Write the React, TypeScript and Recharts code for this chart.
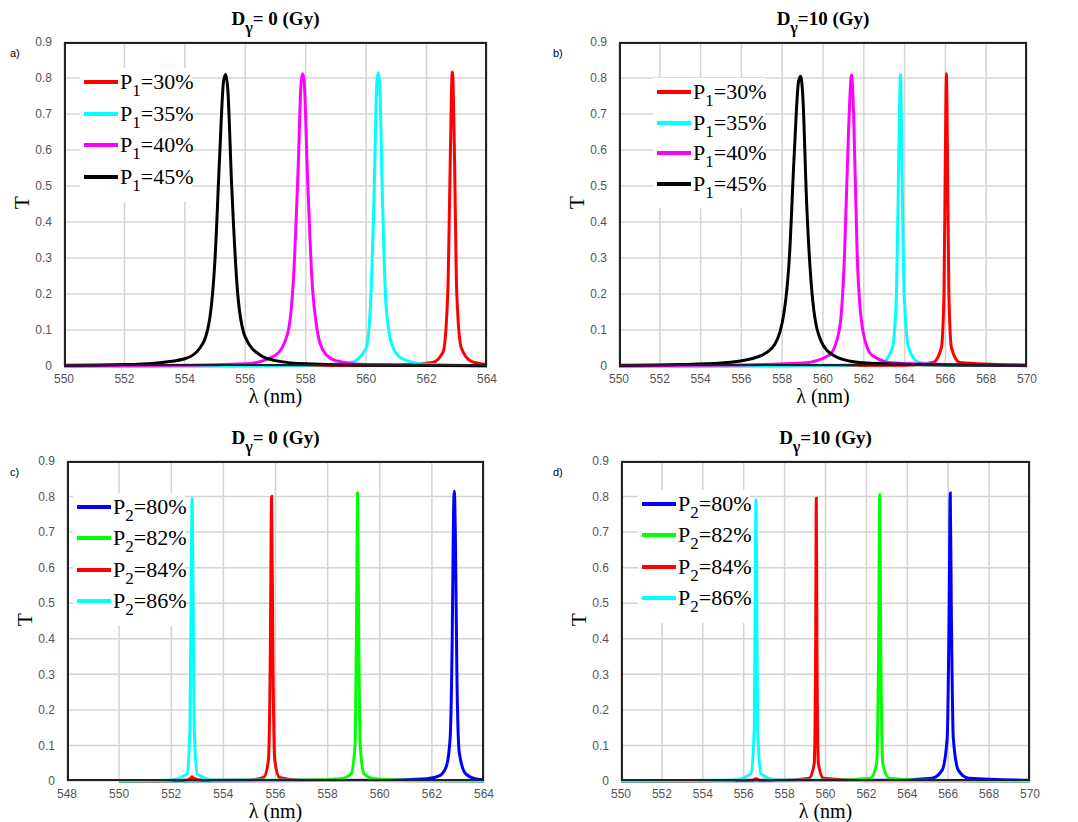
import React from "react";
import { LineChart, Line, XAxis, YAxis, CartesianGrid } from "recharts";

type P = [number, number];
const toObj = (a: P[]) => a.map(([x, y]) => ({ x, y }));

// Panel a) D=0, P1 series
const aP30: P[] = [[550,0],[561,0.002],[562.2,0.01],[562.55,0.04],[562.7,0.2],[562.78,0.55],[562.83,0.78],[562.85,0.817],[562.88,0.78],[562.93,0.55],[563.0,0.2],[563.15,0.05],[563.5,0.012],[564,0.004]];
const aP35: P[] = [[550,0],[558,0.002],[559.5,0.01],[560.0,0.05],[560.15,0.18],[560.27,0.5],[560.35,0.78],[560.4,0.815],[560.45,0.78],[560.53,0.5],[560.65,0.18],[560.85,0.06],[561.2,0.02],[562,0.005],[564,0.001]];
const aP40: P[] = [[550,0.001],[554,0.002],[556,0.006],[557,0.03],[557.4,0.09],[557.6,0.25],[557.75,0.55],[557.85,0.79],[557.9,0.812],[557.95,0.79],[558.05,0.55],[558.2,0.25],[558.4,0.09],[558.6,0.04],[559,0.015],[560,0.004],[564,0.001]];
const aP45: P[] = [[550,0.002],[552,0.004],[553,0.008],[554,0.02],[554.5,0.05],[554.8,0.12],[555.0,0.3],[555.15,0.58],[555.28,0.79],[555.35,0.81],[555.42,0.77],[555.55,0.5],[555.75,0.2],[556,0.08],[556.5,0.03],[557,0.015],[558,0.006],[560,0.002],[564,0.001]];

// Panel b) D=10, P1 series
const bP30: P[] = [[550,0],[564,0.002],[565.4,0.01],[565.8,0.05],[565.93,0.2],[566.0,0.6],[566.05,0.812],[566.1,0.6],[566.17,0.2],[566.3,0.05],[566.7,0.01],[570,0.002]];
const bP35: P[] = [[550,0],[561,0.002],[562.9,0.01],[563.4,0.05],[563.6,0.2],[563.72,0.6],[563.8,0.81],[563.86,0.6],[563.98,0.2],[564.2,0.05],[564.7,0.01],[566,0.003],[570,0.001]];
const bP40: P[] = [[550,0.001],[556,0.003],[559,0.008],[560.3,0.03],[560.8,0.1],[561.05,0.3],[561.25,0.65],[561.4,0.808],[561.5,0.7],[561.68,0.3],[561.95,0.1],[562.4,0.03],[563.5,0.008],[570,0.001]];
const bP45: P[] = [[550,0.002],[553,0.004],[555,0.008],[556.5,0.02],[557.5,0.05],[558.0,0.12],[558.35,0.3],[558.6,0.6],[558.8,0.79],[558.9,0.805],[559.0,0.76],[559.2,0.45],[559.5,0.18],[559.9,0.07],[560.5,0.03],[561.5,0.012],[563,0.006],[566,0.003],[570,0.002]];

// Panel c) D=0, P2 series
const cP80: P[] = [[550,0],[560,0.002],[561.8,0.006],[562.3,0.015],[562.55,0.04],[562.7,0.12],[562.78,0.4],[562.83,0.75],[562.86,0.815],[562.9,0.7],[562.96,0.3],[563.05,0.08],[563.3,0.02],[563.7,0.006],[564,0.004]];
const cP82: P[] = [[550,0],[557,0.002],[558.5,0.006],[558.9,0.02],[559.05,0.1],[559.11,0.45],[559.15,0.81],[559.19,0.45],[559.25,0.1],[559.4,0.02],[559.8,0.006],[561,0.002],[564,0]];
const cP84: P[] = [[550,0],[552.5,0.002],[552.75,0.008],[552.8,0.012],[552.85,0.008],[553.2,0.002],[555,0.003],[555.55,0.01],[555.73,0.06],[555.8,0.35],[555.85,0.8],[555.9,0.35],[555.97,0.06],[556.15,0.01],[557,0.002],[564,0]];
const cP86: P[] = [[550,0],[552,0.003],[552.6,0.02],[552.72,0.15],[552.77,0.6],[552.8,0.795],[552.83,0.6],[552.88,0.15],[553.0,0.02],[553.6,0.003],[564,0]];

// Panel d) D=10, P2 series
const dP80: P[] = [[550,0],[563,0.002],[565.2,0.008],[565.7,0.03],[565.95,0.12],[566.05,0.5],[566.1,0.81],[566.15,0.5],[566.25,0.12],[566.5,0.03],[567,0.008],[570,0.002]];
const dP82: P[] = [[550,0],[560,0.002],[562.2,0.008],[562.5,0.05],[562.6,0.4],[562.65,0.805],[562.7,0.4],[562.8,0.05],[563.1,0.008],[565,0.002],[570,0]];
const dP84: P[] = [[550,0],[556.4,0.002],[556.6,0.006],[556.8,0.002],[558,0.002],[559.2,0.008],[559.45,0.05],[559.52,0.4],[559.55,0.795],[559.58,0.4],[559.65,0.05],[559.9,0.008],[562,0.001],[570,0]];
const dP86: P[] = [[550,0],[555.5,0.003],[556.35,0.02],[556.52,0.15],[556.57,0.6],[556.6,0.79],[556.63,0.6],[556.68,0.15],[556.85,0.02],[557.6,0.003],[570,0]];

const yTicks = [0,0.1,0.2,0.3,0.4,0.5,0.6,0.7,0.8,0.9];
const xTicksA = [550,552,554,556,558,560,562,564];
const xTicksB = [550,552,554,556,558,560,562,564,566,568,570];
const xTicksC = [548,550,552,554,556,558,560,562,564];

type S = { data: P[]; color: string; pct: string };
type Panel = {
  left: number; top: number; w: number; h: number;
  plot: [number, number, number, number];
  xDomain: [number, number]; xTicks: number[];
  series: S[]; title: string; tag: string; sub: string;
  legend: { x: number; y: number; dy: number };
};

const panels: Panel[] = [
  { left: 0, top: 0, w: 545, h: 410, plot: [64, 42, 487, 366], xDomain: [550, 564], xTicks: xTicksA,
    series: [
      { data: aP30, color: "#ff0000", pct: "=30%" },
      { data: aP35, color: "#00ffff", pct: "=35%" },
      { data: aP40, color: "#ff00ff", pct: "=40%" },
      { data: aP45, color: "#000000", pct: "=45%" },
    ], title: "= 0 (Gy)", tag: "a)", sub: "1", legend: { x: 80, y: 78, dy: 31.5 } },
  { left: 545, top: 0, w: 533, h: 410, plot: [619, 42, 1027, 366], xDomain: [550, 570], xTicks: xTicksB,
    series: [
      { data: bP30, color: "#ff0000", pct: "=30%" },
      { data: bP35, color: "#00ffff", pct: "=35%" },
      { data: bP40, color: "#ff00ff", pct: "=40%" },
      { data: bP45, color: "#000000", pct: "=45%" },
    ], title: "=10 (Gy)", tag: "b)", sub: "1", legend: { x: 653, y: 88, dy: 30.5 } },
  { left: 0, top: 418, w: 545, h: 404, plot: [67, 461, 484, 781], xDomain: [548, 564], xTicks: xTicksC,
    series: [
      { data: cP80, color: "#0000ff", pct: "=80%" },
      { data: cP82, color: "#00ff00", pct: "=82%" },
      { data: cP84, color: "#ff0000", pct: "=84%" },
      { data: cP86, color: "#00ffff", pct: "=86%" },
    ], title: "= 0 (Gy)", tag: "c)", sub: "2", legend: { x: 73, y: 503, dy: 31.3 } },
  { left: 545, top: 418, w: 533, h: 404, plot: [621, 461, 1030, 781], xDomain: [550, 570], xTicks: xTicksB,
    series: [
      { data: dP80, color: "#0000ff", pct: "=80%" },
      { data: dP82, color: "#00ff00", pct: "=82%" },
      { data: dP84, color: "#ff0000", pct: "=84%" },
      { data: dP86, color: "#00ffff", pct: "=86%" },
    ], title: "=10 (Gy)", tag: "d)", sub: "2", legend: { x: 638, y: 500, dy: 31.3 } },
];

const serif = "'Liberation Serif', 'DejaVu Serif', serif";
const sans = "'Liberation Sans', Arial, sans-serif";
const YW = 40;
const XH = 20;

function PanelView({ p }: { p: Panel }) {
  const [x0, y0, x1, y1] = p.plot;
  const margin = { left: x0 - p.left - YW, top: y0 - p.top, right: p.left + p.w - x1, bottom: p.top + p.h - y1 - XH };
  const cx = (x0 + x1) / 2;
  const tick = { fill: "#555", fontSize: 12, fontFamily: sans };
  return (
    <>
      <div style={{ position: "absolute", left: p.left, top: p.top }}>
        <LineChart width={p.w} height={p.h} margin={margin}>
          <CartesianGrid stroke="#d4d4d4" strokeWidth={1.5} />
          <XAxis dataKey="x" type="number" domain={p.xDomain} ticks={p.xTicks} allowDataOverflow
            height={XH} axisLine={false} tickLine={false} tick={tick} tickMargin={2} interval={0} />
          <YAxis type="number" domain={[0, 0.9]} ticks={yTicks} width={YW} axisLine={false}
            tickLine={false} tick={tick} tickMargin={6} interval={0} />
          {p.series.map((s, i) => (
            <Line key={i} data={toObj(s.data)} dataKey="y" stroke={s.color} strokeWidth={3}
              dot={false} isAnimationActive={false} type="monotone" />
          ))}
        </LineChart>
      </div>
      <div style={{ position: "absolute", left: x0, top: y0, width: x1 - x0, height: y1 - y0,
        border: "2px solid #222", boxSizing: "border-box", pointerEvents: "none" }} />
      <div style={{ position: "absolute", left: cx - 100, width: 200, top: y0 - 34, textAlign: "center",
        fontFamily: serif, fontWeight: "bold", fontSize: 19, whiteSpace: "nowrap" }}>
        D<sub style={{ fontSize: 16, verticalAlign: "-8px" }}>γ</sub>{p.title}
      </div>
      <div style={{ position: "absolute", left: p.left + (p.left ? 8 : 10), top: y0 + 5, fontFamily: sans, fontSize: 11 }}>{p.tag}</div>
      <div style={{ position: "absolute", left: cx - 60, width: 120, top: y1 + 19, textAlign: "center",
        fontFamily: serif, fontSize: 20, lineHeight: "22px" }}>λ (nm)</div>
      <div style={{ position: "absolute", left: x0 - 48, top: (y0 + y1) / 2 - 14, fontFamily: serif, fontSize: 21,
        transform: "rotate(-90deg)" }}>T</div>
      <div style={{ position: "absolute", left: p.legend.x, top: p.legend.y - 10, width: 112, height: p.legend.dy * 4 + 8,
        background: "#fff" }} />
      {p.series.map((s, i) => (
        <div key={i} style={{ position: "absolute", left: p.legend.x + 4, top: p.legend.y + i * p.legend.dy - 8,
          display: "flex", alignItems: "flex-start", fontFamily: serif, fontSize: 22, lineHeight: "24px", whiteSpace: "nowrap" }}>
          <div style={{ width: 34, height: 4, background: s.color, marginTop: 10, marginRight: 2 }} />
          <span>P<sub style={{ fontSize: 17, verticalAlign: "-7px" }}>{p.sub}</sub>{s.pct}</span>
        </div>
      ))}
    </>
  );
}

export default function App() {
  return (
    <div style={{ position: "absolute", left: 0, top: 0, width: 1078, height: 822, background: "#fff" }}>
      {panels.map((p, i) => <PanelView key={i} p={p} />)}
    </div>
  );
}
